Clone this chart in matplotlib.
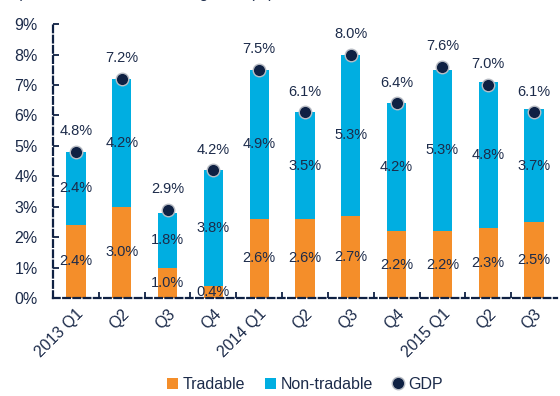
import matplotlib.pyplot as plt
import numpy as np

plt.rcParams['font.family'] = ['Liberation Sans', 'DejaVu Sans']

quarters = ['2013 Q1', 'Q2', 'Q3', 'Q4', '2014 Q1', 'Q2', 'Q3', 'Q4',
            '2015 Q1', 'Q2', 'Q3']
tradable = [2.4, 3.0, 1.0, 0.4, 2.6, 2.6, 2.7, 2.2, 2.2, 2.3, 2.5]
non_tradable = [2.4, 4.2, 1.8, 3.8, 4.9, 3.5, 5.3, 4.2, 5.3, 4.8, 3.7]
gdp = [4.8, 7.2, 2.9, 4.2, 7.5, 6.1, 8.0, 6.4, 7.6, 7.0, 6.1]

orange = '#F48E2A'
blue = '#00AEE1'
navy = '#0F2143'
text_col = '#1C2B4A'

fig = plt.figure(figsize=(5.6, 3.96), dpi=100)
ax = fig.add_axes([0.0946, 0.2475, 0.9, 0.6915])

x = np.arange(len(quarters))
tr = np.array(tradable)
nt = np.array(non_tradable)

b1 = ax.bar(x, tr, width=0.42, color=orange, label='Tradable', zorder=2)
b2 = ax.bar(x, nt, width=0.42, bottom=tr, color=blue, label='Non-tradable',
            zorder=2)
dots, = ax.plot(x, gdp, ls='none', marker='o', ms=9, mfc=navy, mec='#B8BCC4',
                mew=1, label='GDP', zorder=3)

for i in range(len(x)):
    ax.text(x[i], tr[i] / 2, f'{tradable[i]:.1f}%', ha='center', va='center',
            fontsize=10.5, color=text_col, zorder=4)
    ax.text(x[i], tr[i] + nt[i] / 2, f'{non_tradable[i]:.1f}%', ha='center',
            va='center', fontsize=10.5, color=text_col, zorder=4)
    ax.annotate(f'{gdp[i]:.1f}%', (x[i], gdp[i]), xytext=(0, 12),
                textcoords='offset points', ha='center', va='baseline',
                fontsize=10.5, color=text_col, zorder=4)

ax.set_xlim(-0.5, 10.5)
ax.set_ylim(0, 9)
ax.set_yticks(range(10))
ax.set_yticklabels([f'{v}%' for v in range(10)])
ax.set_xticks(x)
ax.set_xticklabels(quarters, rotation=45, ha='right', rotation_mode='anchor')
ax.set_xticks(x[:-1] + 0.5, minor=True)

ax.tick_params(axis='y', direction='in', length=4, width=1.3, color=navy,
               labelsize=11.5, labelcolor=text_col, pad=11)
ax.tick_params(axis='x', which='major', length=0, labelsize=11.5,
               labelcolor=text_col, pad=6)
ax.tick_params(axis='x', which='minor', direction='in', length=4, width=1.3,
               color=navy)

for side in ['top', 'right']:
    ax.spines[side].set_visible(False)
for side in ['left', 'bottom']:
    ax.spines[side].set_color(navy)
    ax.spines[side].set_linewidth(1.6)
    ax.spines[side].set_linestyle((0, (3, 1.6)))

ax.legend([b1, b2, dots], ['Tradable', 'Non-tradable', 'GDP'],
          loc='upper center', bbox_to_anchor=(0.5, -0.235), ncol=3,
          frameon=False, fontsize=11.5, handlelength=0.7, handleheight=0.7,
          handletextpad=0.3, columnspacing=1.2, labelcolor=text_col)

# chart heading sits just above the top edge, only its descenders show
fig.text(0.03, 1.004, '(Contributions to real GDP growth (%)',
         fontsize=11, color=text_col, va='baseline')

fig.savefig('out.png', dpi=100)
